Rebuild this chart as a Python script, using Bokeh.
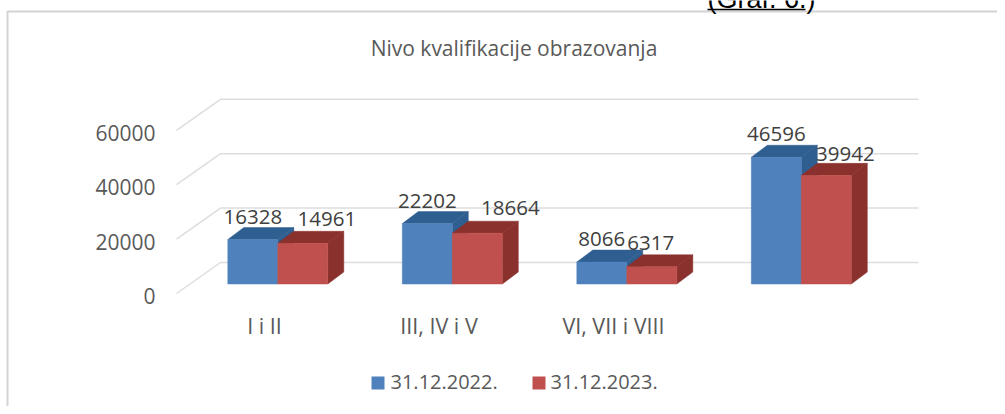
from bokeh.plotting import figure
from bokeh.embed import file_html
from bokeh.resources import INLINE
from bokeh.core.properties import value

# ---- data
categories = ["I i II", "III, IV i V", "VI, VII i VIII", ""]
series_2022 = [16328, 22202, 8066, 46596]
series_2023 = [14961, 18664, 6317, 39942]
series_names = ["31.12.2022.", "31.12.2023."]
tick_values = [0, 20000, 40000, 60000]
title_text = "Nivo kvalifikacije obrazovanja"
note_text = "(Graf. 6.)"

# ---- layout (pixels of the picture, converted through the scale)
W, H = 997, 406
BASE = 283.5                 # bar baseline
UNIT = 20000 / 54.4          # value per pixel
DX, DY = 16, 12              # bar depth
BAR_W = 50
GROUP0, GROUP_STEP = 277.3, 174.5
FONT = value("Open Sans")
BLUE, BLUE_D = "#4F81BD", "#2F5F91"
RED, RED_D = "#C0504D", "#8A302D"
GRID = "#DDDDDD"
TXT, TXT_D = "#595959", "#404040"


def Y(px):
    return (BASE - px) * UNIT


p = figure(width=W, height=H, x_range=(0, W), y_range=(Y(H), Y(0)),
           output_backend="svg", toolbar_location=None, min_border=0,
           x_axis_type="linear")
p.axis.visible = False
p.grid.visible = False
p.outline_line_color = None
p.background_fill_color = "white"

# chart frame, open at right and bottom
p.line([7, 7, W], [Y(H), Y(11), Y(11)], line_color="#D4D4D4", line_width=2)

# gridlines: diagonal wall + back plane
BACK_OFF, FRONT_OFF = 21.5, -9.5
for v in tick_values:
    yb = v + BACK_OFF * UNIT
    yf = v + FRONT_OFF * UNIT
    p.line([176, 220, 918], [yf, yb, yb], line_color=GRID, line_width=1.5)

# y tick labels
p.text(x=[155] * 4, y=[v - 12 * UNIT for v in tick_values],
       text=[str(v) for v in tick_values], text_font=FONT, text_font_size="21px",
       text_color=TXT, text_align="right", text_baseline="middle")

# bars
for i, (a, b) in enumerate(zip(series_2022, series_2023)):
    for j, (v, front, dark) in enumerate(((a, BLUE, BLUE_D), (b, RED, RED_D))):
        x0 = GROUP0 + GROUP_STEP * i + (j - 1) * BAR_W
        x1 = x0 + BAR_W
        d = DY * UNIT
        p.patch([x0, x1, x1 + DX, x0 + DX], [v, v, v + d, v + d],
                fill_color=dark, line_color=dark, line_width=0.5)
        p.patch([x1, x1 + DX, x1 + DX, x1], [0, d, v + d, v],
                fill_color=dark, line_color=dark, line_width=0.5)
        p.quad(left=[x0], right=[x1], bottom=[0], top=[v],
               fill_color=front, line_color=front, line_width=0.5)

# value labels
red_dx = [24, 33, -1, 19]
red_dy = [24, 25.7, 24, 21.5]
for i, (a, b) in enumerate(zip(series_2022, series_2023)):
    cx = GROUP0 + GROUP_STEP * i
    p.text(x=[cx - BAR_W / 2], y=[a + 23 * UNIT], text=[str(a)], text_font=FONT,
           text_font_size="20.5px", text_color=TXT_D, text_align="center", text_baseline="middle")
    p.text(x=[cx + BAR_W / 2 + red_dx[i]], y=[b + red_dy[i] * UNIT], text=[str(b)], text_font=FONT,
           text_font_size="20.5px", text_color=TXT_D, text_align="center", text_baseline="middle")

# category labels
p.text(x=[264 + GROUP_STEP * i for i in range(len(categories))], y=[Y(325)] * len(categories),
       text=categories, text_font=FONT, text_font_size="21.5px", text_color=TXT,
       text_align="center", text_baseline="middle")

# title
p.text(x=[513.5], y=[Y(47)], text=[title_text], text_font=FONT, text_font_size="21px",
       text_color=TXT, text_align="center", text_baseline="middle")

# legend
for sx, tx, col, name in ((371, 390, BLUE, series_names[0]), (532, 550, RED, series_names[1])):
    p.quad(left=[sx], right=[sx + 13], top=[Y(376)], bottom=[Y(389)], fill_color=col, line_color=None)
    p.text(x=[tx], y=[Y(381.5)], text=[name], text_font=FONT, text_font_size="20px",
           text_color=TXT, text_align="left", text_baseline="middle")

# cropped note above the chart
p.text(x=[707], y=[Y(-2)], text=[note_text], text_font=value("Liberation Sans"), text_font_size="27px",
       text_color="#000000", text_align="left", text_baseline="alphabetic")
p.line([707, 805], [Y(9), Y(9)], line_color="#000000", line_width=1.5)

open("out.html", "w").write(file_html(p, INLINE))
